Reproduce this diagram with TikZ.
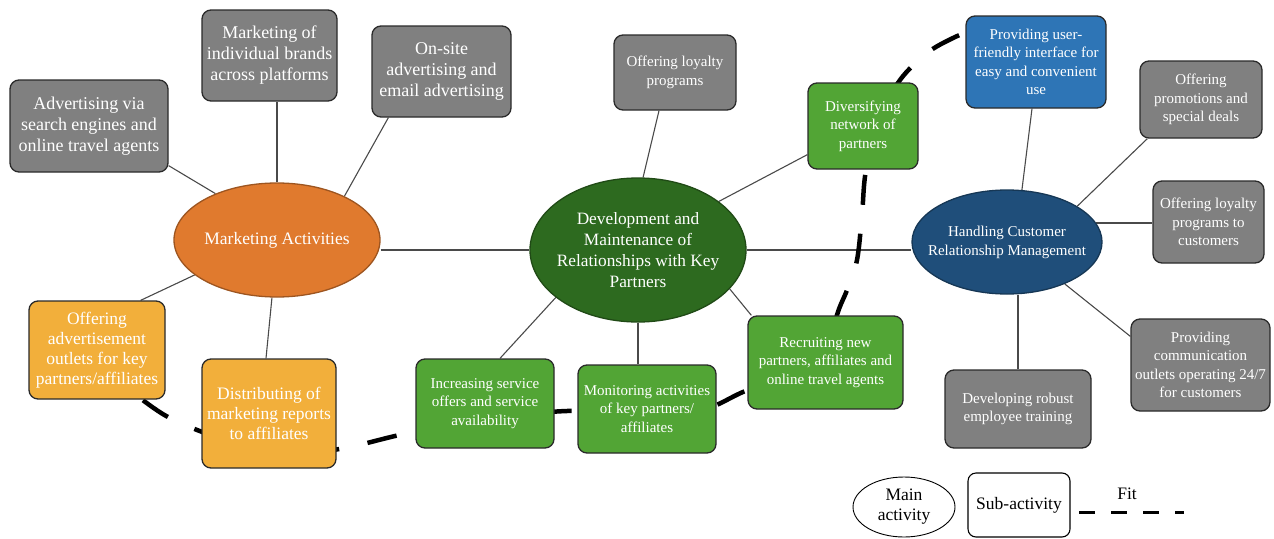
\documentclass[tikz,border=0pt]{standalone}
\usepackage{fontspec}
\setmainfont{Liberation Serif}
\usetikzlibrary{shapes.geometric,calc,backgrounds}

\definecolor{boxgray}{HTML}{808080}
\definecolor{boxline}{HTML}{2A2A2A}
\definecolor{leafgreen}{HTML}{52A535}
\definecolor{amber}{HTML}{F2AF3B}
\definecolor{skyblue}{HTML}{2E75B6}
\definecolor{ovalorange}{HTML}{E07A2E}
\definecolor{ovalgreen}{HTML}{2D6A1F}
\definecolor{ovalnavy}{HTML}{1F4E7A}
\definecolor{linkgray}{HTML}{4A4A4A}

\tikzset{
  box/.style={draw=boxline, line width=1.3pt, rounded corners=9pt, align=center,
              text=white, inner sep=0pt},
  graybox/.style={box, fill=boxgray},
  greenbox/.style={box, fill=leafgreen},
  orangebox/.style={box, fill=amber},
  bluebox/.style={box, fill=skyblue},
  % negative x separation keeps the ellipse at its minimum size
  mainact/.style={ellipse, line width=1.3pt, inner xsep=-40pt, inner ysep=0pt,
                  align=center, text=white},
  link/.style={draw=linkgray, line width=1.1pt},
  fitline/.style={draw=black, line width=4.5pt, dash pattern=on 30pt off 29pt},
  bigfont/.style={font=\fontsize{18}{21}\selectfont},
  midfont/.style={font=\fontsize{17.5}{20}\selectfont},
  smallfont/.style={font=\fontsize{15}{18.5}\selectfont},
  legendfont/.style={font=\fontsize{17.5}{20}\selectfont},
}

\begin{document}
\begin{tikzpicture}[x=1pt,y=-1pt]
\useasboundingbox (0,0) rectangle (1274,538);

% main activities
\node[mainact, fill=ovalorange, draw=ovalorange!70!black, minimum width=206, minimum height=114,
      font=\fontsize{17.5}{20}\selectfont] (ma) at (277,240) {Marketing Activities};
\node[mainact, fill=ovalgreen, draw=ovalgreen!70!black, minimum width=216, minimum height=144,
      font=\fontsize{17.3}{21}\selectfont] (dm) at (638,250)
      {Development and\\Maintenance of\\Relationships with Key\\Partners};
\node[mainact, fill=ovalnavy, draw=ovalnavy!70!black, minimum width=190, minimum height=104,
      font=\fontsize{15}{19}\selectfont] (hcrm) at (1007,242)
      {Handling Customer\\Relationship Management};

% marketing sub-activities
\node[graybox, bigfont, minimum width=158, minimum height=92] (adv) at (89,126)
      {Advertising via\\search engines and\\online travel agents};
\node[graybox, bigfont, minimum width=135, minimum height=91] (brands) at (269.5,55.5)
      {Marketing of\\individual brands\\across platforms};
\node[graybox, bigfont, minimum width=139, minimum height=91] (onsite) at (441.5,71.5)
      {On-site\\advertising and\\email advertising};
\node[orangebox, midfont, minimum width=136, minimum height=98] (offadv) at (97,350)
      {Offering\\advertisement\\outlets for key\\partners/affiliates};
\node[orangebox, midfont, minimum width=134, minimum height=109] (distr) at (269,413.5)
      {Distributing of\\marketing reports\\to affiliates};

% partner sub-activities
\node[graybox, smallfont, minimum width=122, minimum height=75] (loyal) at (675,72.5)
      {Offering loyalty\\programs};
\node[greenbox, smallfont, minimum width=110, minimum height=86] (div) at (863,126)
      {Diversifying\\network of\\partners};
\node[greenbox, smallfont, minimum width=155, minimum height=93] (recruit) at (825.5,362.5)
      {Recruiting new\\partners, affiliates and\\online travel agents};
\node[greenbox, smallfont, minimum width=138, minimum height=89] (incr) at (485,403.5)
      {Increasing service\\offers and service\\availability};
\node[greenbox, smallfont, minimum width=138, minimum height=88] (monit) at (647,409)
      {Monitoring activities\\of key partners/\\affiliates};

% customer sub-activities
\node[bluebox, smallfont, minimum width=140, minimum height=92] (blue) at (1036,62)
      {Providing user-\\friendly interface for\\easy and convenient\\use};
\node[graybox, smallfont, minimum width=122, minimum height=77] (promo) at (1201,99.5)
      {Offering\\promotions and\\special deals};
\node[graybox, smallfont, minimum width=111, minimum height=82] (loyal2) at (1208.5,222)
      {Offering loyalty\\programs to\\customers};
\node[graybox, smallfont, minimum width=139, minimum height=92] (comm) at (1200.5,365)
      {Providing\\communication\\outlets operating 24/7\\for customers};
\node[graybox, smallfont, minimum width=146, minimum height=78] (train) at (1018,409)
      {Developing robust\\employee training};

% fit curve end points
\coordinate (fitA) at (125,386);
\coordinate (fitB) at (975,29);

\begin{scope}[on background layer]
  % connectors
  \draw[link] (ma.143.7) -- ($(adv.south east)+(0,-7)$);
  \draw[link] (ma.north) -- (ma.north |- brands.south);
  \draw[link] (ma.33.5) -- ($(onsite.south west)+(17,0)$);
  \draw[link] (ma.203) -- ($(offadv.north east)+(-25,0)$);
  \draw[link] (ma.265) -- ($(distr.north)+(-3,0)$);
  \draw[link] (ma.east |- dm.west) -- (dm.west);
  \draw[link] (dm.east) -- (dm.east -| hcrm.west);
  \draw[link] (dm.86) -- ($(loyal.south)+(-16,0)$);
  \draw[link] (dm.31.4) -- ($(div.south west)+(0,-15)$);
  \draw[link] (dm.210) -- ($(incr.north)+(15,0)$);
  \draw[link] (dm.south) -- (dm.south |- monit.north);
  \draw[link] (dm.337.7) -- ($(recruit.north west)+(4,0)$);
  \draw[link] (hcrm.74) -- ($(blue.south)+(-4,0)$);
  \draw[link] (hcrm.27) -- ($(promo.south west)+(8,0)$);
  \draw[link] (hcrm.12) -- (hcrm.12 -| loyal2.west);
  \draw[link] (hcrm.-36.5) -- ($(comm.north west)+(0,18)$);
  \draw[link] (train.north) -- (train.north |- hcrm.south);

  % fit curve running behind the sub-activities, in two stretches meeting
  % inside the recruiting box
  \draw[fitline, dash phase=36pt] plot[smooth, tension=0.55] coordinates {
    (fitA) (168,417) (230,441) (300,452) (345,448) (404,434) (480,420)
    (567,411) (690,412) (748,390) (recruit.center)};
  \draw[fitline, dash phase=14pt] plot[smooth, tension=0.55] coordinates {
    (recruit.center) (837,315) (847,290) (857,260)
    (862,215) (866,170) (880,118) (900,80) (927,53) (953,38) (fitB)};
\end{scope}

% legend
\node[ellipse, draw=black, line width=0.9pt, minimum width=102, minimum height=60, inner sep=0pt,
      align=center, legendfont] (legmain) at (904,507) {Main\\activity};
\node[draw=black, line width=1.1pt, rounded corners=8pt, minimum width=102, minimum height=64,
      inner sep=0pt, legendfont] (legsub) at (1019,505) {Sub-activity};
\node[legendfont] (legfit) at (1127,494) {Fit};
\coordinate (legA) at (1079,512);
\coordinate (legB) at (1184,512);
\draw[draw=black, line width=3pt, dash pattern=on 16pt off 16pt] (legA) -- (legB);
\end{tikzpicture}
\end{document}
